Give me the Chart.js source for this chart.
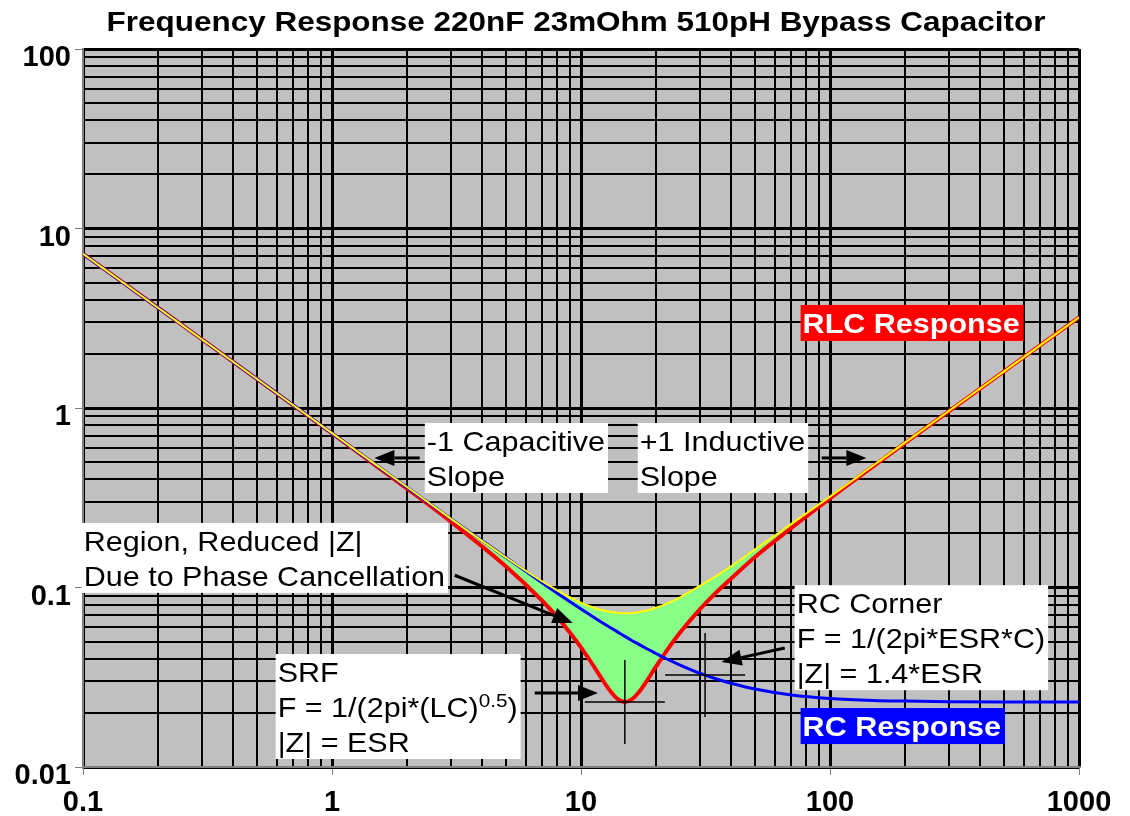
<!DOCTYPE html>
<html>
<head>
<meta charset="utf-8">
<title>Frequency Response 220nF 23mOhm 510pH Bypass Capacitor</title>
<script src="https://cdn.jsdelivr.net/npm/chart.js@4"></script>
<style>
  html, body { margin: 0; padding: 0; background: #fff; overflow: hidden; }
  canvas { display: block; }
</style>
</head>
<body>
<canvas id="c" width="1130" height="816"></canvas>
<script>
// frequency in MHz, impedance in ohms
const freqMHz = [0.1, 0.2, 0.5, 1, 2, 3, 5, 7, 8, 9, 10, 11, 12, 13, 14, 15, 16, 17, 18, 20, 22, 25, 30, 35, 40, 50, 70, 100, 150, 200, 300, 500, 1000];
const rlcOhm = [7.23, 3.62, 1.45, 0.721, 0.356, 0.233, 0.131, 0.0841, 0.0688, 0.0564, 0.0464, 0.0382, 0.0317, 0.0269, 0.0240, 0.0230, 0.0238, 0.0259, 0.0289, 0.0362, 0.0441, 0.0561, 0.0756, 0.0943, 0.112, 0.148, 0.215, 0.314, 0.476, 0.638, 0.959, 1.60, 3.20];
const rcOhm = [7.23, 3.62, 1.45, 0.724, 0.362, 0.242, 0.147, 0.106, 0.0933, 0.0836, 0.0759, 0.0697, 0.0645, 0.0602, 0.0566, 0.0534, 0.0507, 0.0484, 0.0463, 0.0429, 0.0401, 0.0370, 0.0333, 0.0309, 0.0293, 0.0272, 0.0252, 0.0241, 0.0235, 0.0233, 0.0231, 0.0230, 0.0230];
const noCancelOhm = [7.23, 3.62, 1.45, 0.724, 0.363, 0.242, 0.147, 0.108, 0.0968, 0.0884, 0.0824, 0.0781, 0.0751, 0.0732, 0.0722, 0.0719, 0.0721, 0.0729, 0.0740, 0.0771, 0.0811, 0.0882, 0.102, 0.116, 0.131, 0.163, 0.226, 0.321, 0.481, 0.641, 0.962, 1.60, 3.20];

const xTickLabels = ['0.1', '1', '10', '100', '1000'];
const yTickLabels = ['0.01', '0.1', '1', '10', '100'];

const srfPoint = { f: 15.0, z: 0.023 };
const rcCornerPoint = { f: 31.5, z: 0.0325 };

const titleText = 'Frequency Response 220nF 23mOhm 510pH Bypass Capacitor';

// text boxes, anchored at their top left corner in data units
const notes = [
  { x: 2.36, y: 0.825, lines: ['-1 Capacitive', 'Slope'] },
  { x: 16.9, y: 0.825, lines: ['+1 Inductive', 'Slope'] },
  { x: 0.0988, y: 0.229, lines: ['Region, Reduced |Z|', 'Due to Phase Cancellation'] },
  { x: 0.594, y: 0.0426, lines: ['SRF', [['F = 1/(2pi*(LC)', false], ['0.5', true], [')', false]], '|Z| = ESR'] },
  { x: 72.1, y: 0.103, lines: ['RC Corner', 'F = 1/(2pi*ESR*C)', '|Z| = 1.4*ESR'] }
];
const tags = [
  { x: 76.2, y: 3.75, text: 'RLC Response', bg: '#FF0000' },
  { x: 76.2, y: 0.0213, text: 'RC Response', bg: '#0000FF' }
];
const arrows = [
  [2.25, 0.527, 1.48, 0.527],
  [92.6, 0.527, 140, 0.527],
  [3.11, 0.117, 9.26, 0.0634],
  [6.52, 0.0258, 11.7, 0.0258],
  [65.8, 0.046, 36.7, 0.0385]
];

const FAMILY = "'Liberation Sans', Arial, sans-serif";
const SX = 1.09; // lettering in the reference is a little wide
const NOTE_FONT = '28px ' + FAMILY;
const SUP_FONT = '19px ' + FAMILY;
const TAG_FONT = 'bold 28px ' + FAMILY;
const TITLE_FONT = 'bold 27px ' + FAMILY;
const TITLE_SX = 1.165;

function pts(ys) {
  return freqMHz.map((f, i) => ({ x: f, y: ys[i] }));
}

function gridValues(labels) {
  const out = [];
  labels.forEach((l, i) => {
    const d = parseFloat(l);
    if (i === labels.length - 1) { out.push(d); return; }
    for (let m = 1; m < 10; m++) out.push(+(d * m).toPrecision(6));
  });
  return out;
}

function textW(ctx, str, font, sx) {
  ctx.font = font;
  return ctx.measureText(str).width * (sx || SX);
}

function wideText(ctx, str, x, y, font, sx) {
  ctx.save();
  ctx.font = font;
  ctx.translate(x, y);
  ctx.scale(sx || SX, 1);
  ctx.fillText(str, 0, 0);
  ctx.restore();
}

function lineParts(line) {
  return typeof line === 'string' ? [[line, false]] : line;
}

function lineWidth(ctx, line) {
  return lineParts(line).reduce((w, p) => w + textW(ctx, p[0], p[1] ? SUP_FONT : NOTE_FONT), 0);
}

function drawArrow(ctx, x1, y1, x2, y2) {
  const a = Math.atan2(y2 - y1, x2 - x1);
  const hl = 20, hw = 8;
  const bx = x2 - hl * Math.cos(a), by = y2 - hl * Math.sin(a);
  ctx.beginPath();
  ctx.moveTo(x1, y1);
  ctx.lineTo(bx, by);
  ctx.lineWidth = 3;
  ctx.strokeStyle = '#000';
  ctx.stroke();
  ctx.beginPath();
  ctx.moveTo(x2, y2);
  ctx.lineTo(bx - hw * Math.sin(a), by + hw * Math.cos(a));
  ctx.lineTo(bx + hw * Math.sin(a), by - hw * Math.cos(a));
  ctx.closePath();
  ctx.fillStyle = '#000';
  ctx.fill();
}

function drawCross(ctx, xs, ys, p) {
  const cx = xs.getPixelForValue(p.f), cy = ys.getPixelForValue(p.z);
  ctx.beginPath();
  ctx.moveTo(cx, cy - 42); ctx.lineTo(cx, cy + 42);
  ctx.moveTo(cx - 40, cy); ctx.lineTo(cx + 40, cy);
  ctx.lineWidth = 1.5;
  ctx.strokeStyle = '#000';
  ctx.stroke();
}

const overlay = {
  id: 'overlay',
  beforeDraw(chart) {
    const { ctx, chartArea: a } = chart;
    ctx.save();
    ctx.fillStyle = '#C0C0C0';
    ctx.fillRect(a.left, a.top, a.right - a.left, a.bottom - a.top);
    ctx.restore();
  },
  afterDatasetsDraw(chart) {
    const ctx = chart.ctx, xs = chart.scales.x, ys = chart.scales.y;
    ctx.save();
    drawCross(ctx, xs, ys, srfPoint);
    drawCross(ctx, xs, ys, rcCornerPoint);
    arrows.forEach(r => drawArrow(ctx, xs.getPixelForValue(r[0]), ys.getPixelForValue(r[1]),
      xs.getPixelForValue(r[2]), ys.getPixelForValue(r[3])));

    ctx.textBaseline = 'alphabetic';
    ctx.textAlign = 'left';
    notes.forEach(n => {
      const left = xs.getPixelForValue(n.x), top = ys.getPixelForValue(n.y);
      const w = Math.max(...n.lines.map(l => lineWidth(ctx, l))) + 5;
      const h = 35 * n.lines.length;
      ctx.fillStyle = '#fff';
      ctx.fillRect(left, top, w, h);
      ctx.fillStyle = '#000';
      n.lines.forEach((l, i) => {
        let x = left + 2;
        const base = top + 28 + 35 * i;
        lineParts(l).forEach(p => {
          const f = p[1] ? SUP_FONT : NOTE_FONT;
          wideText(ctx, p[0], x, p[1] ? base - 10 : base, f);
          x += textW(ctx, p[0], f);
        });
      });
    });

    tags.forEach(t => {
      const left = xs.getPixelForValue(t.x), top = ys.getPixelForValue(t.y);
      const w = textW(ctx, t.text, TAG_FONT) + 6;
      ctx.fillStyle = t.bg;
      ctx.fillRect(left, top, w, 36);
      ctx.fillStyle = '#fff';
      wideText(ctx, t.text, left + 2, top + 28, TAG_FONT);
    });
    ctx.restore();
  },
  afterDraw(chart) {
    const ctx = chart.ctx;
    ctx.save();
    ctx.fillStyle = '#000';
    ctx.textBaseline = 'alphabetic';
    const w = textW(ctx, titleText, TITLE_FONT, TITLE_SX);
    wideText(ctx, titleText, 576 - w / 2, 31, TITLE_FONT, TITLE_SX);
    ctx.restore();
  }
};

function axis(labels, dir) {
  const grid = gridValues(labels);
  return {
    type: 'logarithmic',
    position: dir === 'x' ? 'bottom' : 'left',
    min: parseFloat(labels[0]),
    max: parseFloat(labels[labels.length - 1]),
    afterBuildTicks: s => {
      s.ticks = grid.map(v => ({ value: v, major: labels.includes(String(v)) }));
    },
    afterFit: s => {
      if (dir === 'x') s.height = 49; else s.width = 83;
    },
    ticks: {
      autoSkip: false,
      maxRotation: 0,
      color: '#000',
      font: { family: FAMILY, size: 29, weight: 'bold' },
      padding: dir === 'x' ? 11 : 4,
      labelOffset: dir === 'y' ? 9 : 0,
      callback: v => {
        const s = String(+Number(v).toPrecision(6));
        return labels.includes(s) ? s : '';
      }
    },
    grid: {
      color: '#000',
      lineWidth: c => (c.tick && c.tick.major ? 3 : 2),
      tickLength: 8,
      tickWidth: 1,
      tickColor: c => (c.tick && c.tick.major ? '#808080' : 'rgba(0,0,0,0)')
    },
    border: { color: '#808080', width: 2 }
  };
}

new Chart(document.getElementById('c'), {
  type: 'line',
  data: {
    datasets: [
      { label: 'No cancellation', data: pts(noCancelOhm), borderColor: '#FFFF00', borderWidth: 2 },
      { label: 'RC Response', data: pts(rcOhm), borderColor: '#0000FF', borderWidth: 3 },
      { label: 'RLC Response', data: pts(rlcOhm), borderColor: '#FF0000', borderWidth: 4,
        fill: { target: 0, above: '#88FF88', below: '#88FF88' } }
    ]
  },
  options: {
    responsive: false,
    animation: false,
    layout: { padding: { top: 49, right: 51, left: 0, bottom: 0 } },
    elements: {
      point: { radius: 0 },
      line: { cubicInterpolationMode: 'monotone', fill: false }
    },
    plugins: {
      legend: { display: false },
      title: { display: false },
      tooltip: { enabled: false }
    },
    scales: {
      x: axis(xTickLabels, 'x'),
      y: axis(yTickLabels, 'y')
    }
  },
  plugins: [overlay]
});
</script>
</body>
</html>
